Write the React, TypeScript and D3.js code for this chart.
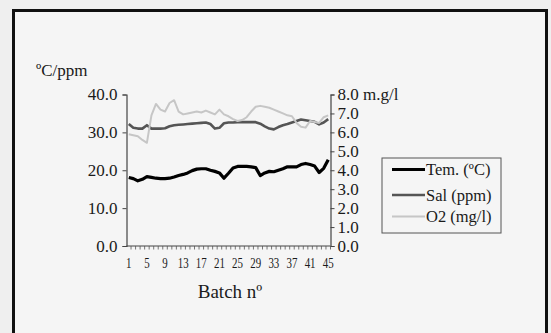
import React, { useRef, useEffect } from 'react';
import * as d3 from 'd3';

// batch numbers 1..45
const batches = [
  1, 2, 3, 4, 5, 6, 7, 8, 9, 10, 11, 12, 13, 14, 15, 16, 17, 18, 19, 20, 21, 22, 23,
  24, 25, 26, 27, 28, 29, 30, 31, 32, 33, 34, 35, 36, 37, 38, 39, 40, 41, 42, 43, 44, 45,
];

// temperature (ºC), left axis
const temperature = [
  18.1, 17.8, 17.2, 17.6, 18.3, 18.1, 17.9, 17.8, 17.8, 17.9, 18.2, 18.6, 18.9, 19.3, 19.9,
  20.3, 20.4, 20.4, 20.0, 19.7, 19.3, 17.9, 19.2, 20.6, 21.0, 21.0, 21.0, 20.9, 20.7, 18.6,
  19.3, 19.7, 19.6, 20.0, 20.4, 20.9, 20.9, 20.9, 21.5, 21.8, 21.5, 21.1, 19.4, 20.5, 22.8,
];

// salinity (ppm), left axis
const salinity = [
  32.2, 31.2, 31.0, 31.0, 31.9, 31.0, 31.0, 31.0, 31.1, 31.6, 31.9, 32.0, 32.1, 32.2, 32.3,
  32.4, 32.5, 32.6, 32.2, 31.0, 31.2, 32.4, 32.6, 32.6, 32.7, 32.7, 32.7, 32.7, 32.7, 32.3,
  31.6, 31.0, 30.8, 31.4, 31.9, 32.2, 32.6, 33.0, 33.4, 33.2, 33.0, 32.8, 32.1, 32.6, 33.5,
];

// dissolved oxygen (mg/l), right axis
const oxygen = [
  5.9, 5.85, 5.8, 5.6, 5.45, 6.9, 7.5, 7.2, 7.1, 7.55, 7.7, 7.1, 6.95, 7.0, 7.05,
  7.1, 7.05, 7.15, 7.05, 6.95, 7.2, 6.95, 6.85, 6.7, 6.6, 6.65, 6.8, 7.1, 7.35, 7.4,
  7.35, 7.3, 7.2, 7.1, 7.0, 6.9, 6.85, 6.5, 6.3, 6.25, 6.6, 6.55, 6.5, 6.8, 6.9,
];

const leftTicks = [0, 10, 20, 30, 40];
const rightTicks = [0, 1, 2, 3, 4, 5, 6, 7, 8];
const batchLabels = [1, 5, 9, 13, 17, 21, 25, 29, 33, 37, 41, 45];

const legendItems = [
  { name: 'Tem. (ºC)', color: '#000000', width: 3.2 },
  { name: 'Sal (ppm)', color: '#555555', width: 2.6 },
  { name: 'O2 (mg/l)', color: '#c6c6c6', width: 2 },
];

const FONT = '"Liberation Serif", "Times New Roman", serif';

const App = () => {
  const svgRef = useRef<SVGSVGElement>(null);

  useEffect(() => {
    const w = 551;
    const h = 333;
    const svg = d3.select(svgRef.current);
    svg.selectAll('*').remove();

    // page + frame
    svg.append('rect').attr('width', w).attr('height', h).attr('fill', '#efefef');
    svg.append('rect')
      .attr('x', 13.5).attr('y', 10.5)
      .attr('width', 533).attr('height', 340)
      .attr('fill', '#f5f5f5')
      .attr('stroke', '#111').attr('stroke-width', 3);

    const left = 126.5;
    const right = 330.5;
    const top = 94.5;
    const bottom = 246;

    const x = d3.scaleBand<number>().domain(batches).range([left, right]).padding(0);
    const bw = x.bandwidth();
    const yL = d3.scaleLinear().domain([0, 40]).range([bottom, top]);
    const yR = d3.scaleLinear().domain([0, 8]).range([bottom, top]);

    // left axis
    const gL = svg.append('g')
      .attr('transform', `translate(${left},0)`)
      .call(d3.axisLeft(yL).tickValues(leftTicks).tickFormat(d3.format('.1f')).tickSize(4).tickPadding(5));
    gL.select('.domain').attr('stroke', '#444').attr('stroke-width', 1.2);
    gL.selectAll('line').attr('stroke', '#444');
    gL.selectAll('text').attr('font-family', FONT).attr('font-size', 17).attr('fill', '#1a1a1a');

    // right axis
    const gR = svg.append('g')
      .attr('transform', `translate(${right},0)`)
      .call(d3.axisRight(yR).tickValues(rightTicks).tickFormat(d3.format('.1f')).tickSize(4).tickPadding(3));
    gR.select('.domain').attr('stroke', '#444').attr('stroke-width', 1.2);
    gR.selectAll('line').attr('stroke', '#444');
    gR.selectAll('text').attr('font-family', FONT).attr('font-size', 17).attr('fill', '#1a1a1a')
      .text((d: any) => (d === 8 ? '8.0 m.g/l' : d3.format('.1f')(d)));

    // x axis: baseline, a tick between every batch, every 4th labelled
    const gX = svg.append('g').attr('transform', `translate(0,${bottom})`);
    gX.append('line').attr('x1', left).attr('x2', right).attr('stroke', '#444').attr('stroke-width', 1.2);
    gX.selectAll('.minor')
      .data(batches)
      .join('line')
      .attr('x1', d => x(d)! + bw).attr('x2', d => x(d)! + bw)
      .attr('y1', 0).attr('y2', 3.5)
      .attr('stroke', '#555').attr('stroke-width', 0.8);
    gX.selectAll('.lbl')
      .data(batchLabels)
      .join('text')
      .attr('transform', d => `translate(${x(d)! + bw / 2},22) scale(0.78,1)`)
      .attr('text-anchor', 'middle')
      .attr('font-family', FONT).attr('font-size', 14).attr('fill', '#1a1a1a')
      .text(d => d);

    // axis titles
    svg.append('text').attr('x', 36).attr('y', 76)
      .attr('font-family', FONT).attr('font-size', 17).attr('fill', '#1a1a1a').text('ºC/ppm');
    svg.append('text').attr('x', 230).attr('y', 298).attr('text-anchor', 'middle')
      .attr('font-family', FONT).attr('font-size', 19).attr('fill', '#1a1a1a').text('Batch nº');

    // series
    const cx = (i: number) => x(batches[i])! + bw / 2;
    const lineL = d3.line<number>().x((d, i) => cx(i)).y(d => yL(d));
    const lineR = d3.line<number>().x((d, i) => cx(i)).y(d => yR(d));

    svg.append('path').attr('d', lineL(temperature)!).attr('fill', 'none')
      .attr('stroke', legendItems[0].color).attr('stroke-width', legendItems[0].width).attr('stroke-linejoin', 'round');
    svg.append('path').attr('d', lineL(salinity)!).attr('fill', 'none')
      .attr('stroke', legendItems[1].color).attr('stroke-width', legendItems[1].width).attr('stroke-linejoin', 'round');
    svg.append('path').attr('d', lineR(oxygen)!).attr('fill', 'none')
      .attr('stroke', legendItems[2].color).attr('stroke-width', legendItems[2].width).attr('stroke-linejoin', 'round');

    // legend
    const lg = svg.append('g').attr('transform', 'translate(382,158)');
    lg.append('rect').attr('width', 119).attr('height', 75).attr('fill', 'none')
      .attr('stroke', '#555').attr('stroke-width', 1);
    const rows = [11.5, 37, 58.5];
    legendItems.forEach((it, i) => {
      lg.append('line').attr('x1', 10).attr('x2', 43).attr('y1', rows[i]).attr('y2', rows[i])
        .attr('stroke', it.color).attr('stroke-width', it.width);
      lg.append('text').attr('x', 44).attr('y', rows[i] + 5.5)
        .attr('font-family', FONT).attr('font-size', 16.5).attr('fill', '#1a1a1a').text(it.name);
    });
  }, []);

  return (
    <svg ref={svgRef} width={551} height={333}
      style={{ position: 'absolute', left: 0, top: 0, display: 'block' }} />
  );
};

export default App;
